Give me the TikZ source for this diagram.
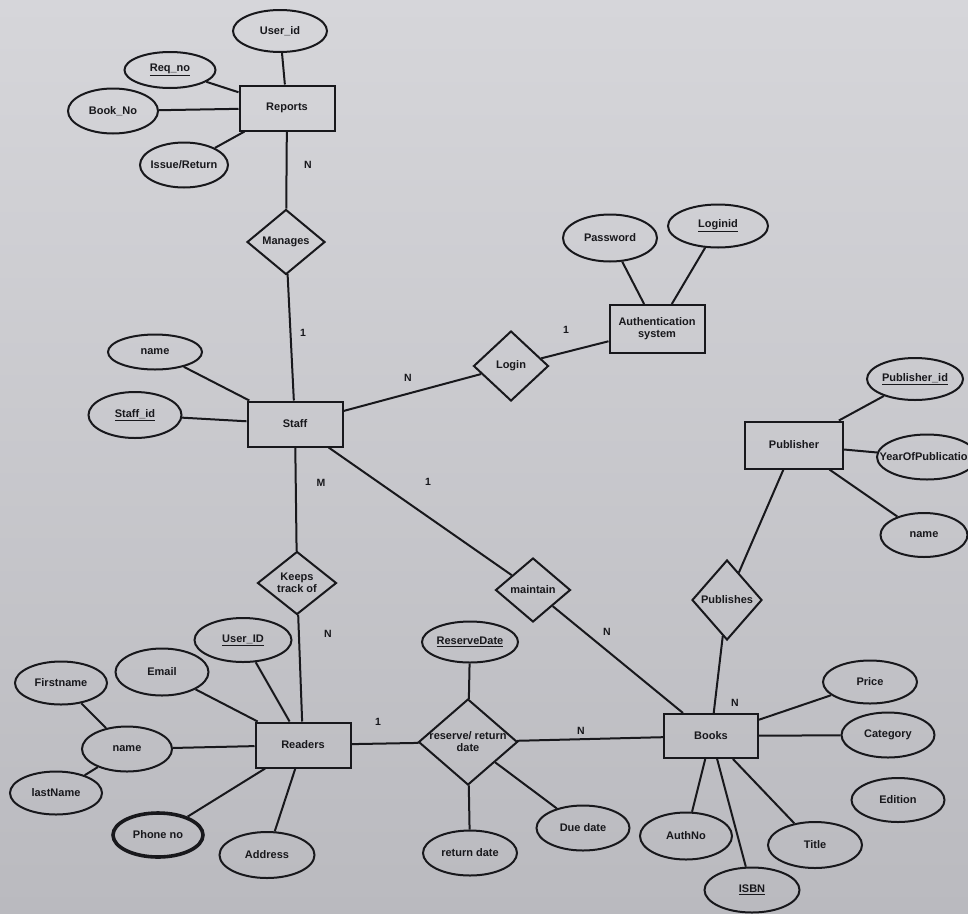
\documentclass[tikz,border=0pt]{standalone}
\usepackage{fontspec}
\setmainfont{Liberation Sans}
\usetikzlibrary{shapes.geometric, positioning}
\definecolor{paperhi}{RGB}{214,214,218}
\definecolor{paperlo}{RGB}{186,186,191}
\definecolor{ink}{RGB}{24,24,28}
\tikzset{every node/.style={font=\fontsize{11}{12}\selectfont\bfseries, text=ink},
every label/.style={align=center},
entity/.style={draw=ink, line width=2pt, minimum width=95pt, minimum height=45pt, inner sep=0pt, align=center},
attr/.style={draw=ink, ellipse, line width=2pt, minimum width=93pt, minimum height=44pt, inner xsep=-20pt, inner ysep=0pt},
rel/.style={draw=ink, diamond, line width=2pt, minimum width=78pt, minimum height=65pt, inner sep=0pt},
link/.style={draw=ink, line width=2pt},
card/.style={font=\fontsize{10.5}{11}\selectfont\bfseries},
}

\begin{document}
\begin{tikzpicture}[x=1pt, y=-1pt]
            \useasboundingbox (0,0) rectangle (968,913);
            \shade[top color=paperhi, bottom color=paperlo] (0,0) rectangle (968,913);

            % entities
            \node[entity] (reports) at (287,108) {Reports};
            \node[entity, minimum height=48pt] (auth) at (657,329) {Authentication\\system};
            \node[entity] (staff) at (295,424) {Staff};
            \node[entity, minimum width=98pt, minimum height=47pt] (publisher) at (794,445) {Publisher};
            \node[entity] (readers) at (303,745) {Readers};
            \node[entity, minimum width=94pt, minimum height=44pt] (books) at (711,736) {Books};

            % relationships
            \node[rel, label={center:Manages}] (manages) at (286,242) {};
            \node[rel, minimum width=75pt, minimum height=70pt, label={center:Login}] (login) at (511,366) {};
            \node[rel, minimum width=79pt, minimum height=63pt, label={center:{Keeps\\track of}}] (keeps) at (297,583) {};
            \node[rel, minimum width=75pt, minimum height=64pt, label={center:maintain}] (maintain) at (533,590) {};
            \node[rel, minimum width=70pt, minimum height=80pt, label={center:Publishes}] (publishes) at (727,600) {};
            \node[rel, minimum width=99pt, minimum height=86pt, label={center:{reserve/ return\\date}}] (reserve) at (468,742) {};

            % attributes
            \node[attr, minimum width=94pt, minimum height=42pt] (userid) at (280,31) {User\_id};
            \node[attr, minimum width=91pt, minimum height=36pt] (reqno) at (170,70) {\underline{Req\_no}};
            \node[attr, minimum width=90pt, minimum height=45pt] (bookno) at (113,111) {Book\_No};
            \node[attr, minimum width=88pt, minimum height=45pt] (issue) at (184,165) {Issue/Return};
            \node[attr, minimum width=94pt, minimum height=47pt] (password) at (610,238) {Password};
            \node[attr, minimum width=100pt, minimum height=43pt] (loginid) at (718,226) {\underline{Loginid}};
            \node[attr, minimum width=94pt, minimum height=35pt] (sname) at (155,352) {name};
            \node[attr, minimum width=93pt, minimum height=46pt] (staffid) at (135,415) {\underline{Staff\_id}};
            \node[attr, minimum width=96pt, minimum height=42pt] (pubid) at (915,379) {\underline{Publisher\_id}};
            \node[attr, minimum width=100pt, minimum height=45pt] (year) at (927,457) {YearOfPublication};
            \node[attr, minimum width=87pt, minimum height=44pt] (pname) at (924,535) {name};
            \node[attr, minimum width=92pt, minimum height=43pt] (first) at (61,683) {Firstname};
            \node[attr, minimum width=93pt, minimum height=47pt] (email) at (162,672) {Email};
            \node[attr, minimum width=97pt, minimum height=44pt] (ruserid) at (243,640) {\underline{User\_ID}};
            \node[attr, minimum width=90pt, minimum height=45pt] (rname) at (127,749) {name};
            \node[attr, minimum width=92pt, minimum height=43pt] (last) at (56,793) {lastName};
            \node[attr, minimum width=90pt, minimum height=44pt, line width=3.6pt] (phone) at (158,835) {Phone no};
            \node[attr, minimum width=95pt, minimum height=46pt] (address) at (267,855) {Address};
            \node[attr, minimum width=96pt, minimum height=41pt] (resdate) at (470,642) {\underline{ReserveDate}};
            \node[attr, minimum width=94pt, minimum height=45pt] (retdate) at (470,853) {return date};
            \node[attr, minimum width=93pt, minimum height=45pt] (duedate) at (583,828) {Due date};
            \node[attr, minimum width=94pt, minimum height=43pt] (price) at (870,682) {Price};
            \node[attr, minimum width=93pt, minimum height=45pt] (category) at (888,735) {Category};
            \node[attr, minimum width=93pt, minimum height=44pt] (edition) at (898,800) {Edition};
            \node[attr, minimum width=92pt, minimum height=47pt] (authno) at (686,836) {AuthNo};
            \node[attr, minimum width=94pt, minimum height=46pt] (title) at (815,845) {Title};
            \node[attr, minimum width=95pt, minimum height=45pt] (isbn) at (752,890) {\underline{ISBN}};

            % connectors
            \draw[link] (userid) -- (reports)
                (reqno) -- (reports)
                (bookno) -- (reports)
                (issue) -- (reports)
                (reports) -- (manages)
                (manages) -- (staff)
                (sname) -- (staff)
                (staffid) -- (staff)
                (staff) -- (login)
                (login) -- (auth)
                (password) -- (auth)
                (loginid) -- (auth)
                (staff) -- (keeps)
                (keeps) -- (readers)
                (staff) -- (maintain)
                (maintain) -- (books)
                (publisher) -- (publishes)
                (publishes) -- (books)
                (pubid) -- (publisher)
                (year) -- (publisher)
                (pname) -- (publisher)
                (readers) -- (reserve)
                (reserve) -- (books)
                (resdate) -- (reserve)
                (retdate) -- (reserve)
                (duedate) -- (reserve)
                (ruserid) -- (readers)
                (email) -- (readers)
                (rname) -- (readers)
                (phone) -- (readers)
                (address) -- (readers)
                (first) -- (rname)
                (last) -- (rname)
                (price) -- (books)
                (category) -- (books)
                (authno) -- (books)
                (isbn) -- (books)
                (title) -- (books);

            % cardinalities
            \node[card] (cRep) at (308,165) {N};
            \node[card] (cMan) at (303,333) {1};
            \node[card] (cLogS) at (408,378) {N};
            \node[card] (cLogA) at (566,330) {1};
            \node[card] (cKeepS) at (321,483) {M};
            \node[card] (cKeepR) at (328,634) {N};
            \node[card] (cMainS) at (428,482) {1};
            \node[card] (cMainB) at (607,632) {N};
            \node[card] (cResR) at (378,722) {1};
            \node[card] (cResB) at (581,731) {N};
            \node[card] (cPubB) at (735,703) {N};
        \end{tikzpicture}
\end{document}
